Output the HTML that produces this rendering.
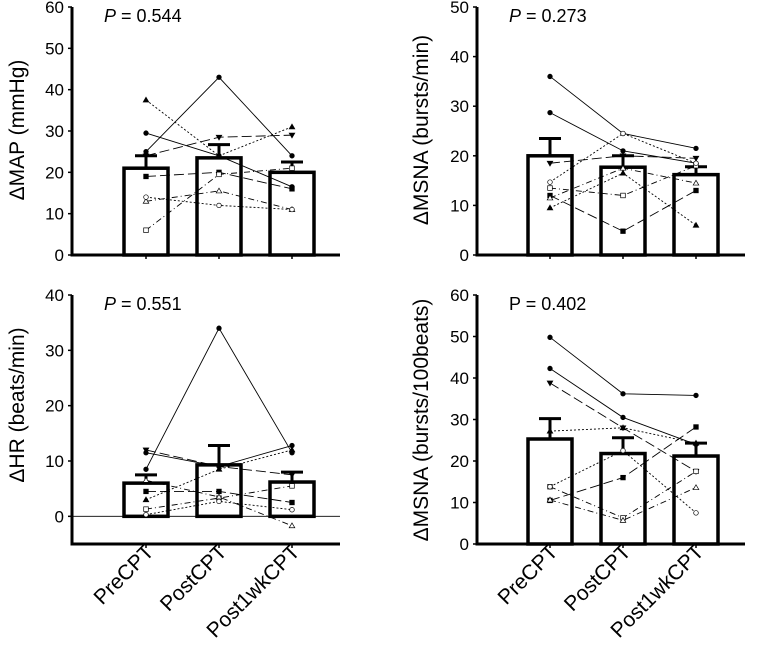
<!DOCTYPE html>
<html><head><meta charset="utf-8"><style>
body{margin:0;background:#fff}
svg{display:block;font-family:"Liberation Sans",Arial,sans-serif}
</style></head><body>
<svg id="fig" width="771" height="648" viewBox="0 0 771 648" xmlns="http://www.w3.org/2000/svg"></svg>
<script>
const categories=["PreCPT","PostCPT","Post1wkCPT"];
// panel A: ΔMAP
const mapMeans=[21,23.5,20];
const mapErr=[24,26.7,22.5];
const mapLines=[[25,43,24],[29.5,24,16.5],[24,28.5,29],[37.5,24,31],[19,20,16],[6,19.5,21],[13,15.5,11],[14,12,11]];
// panel B: ΔMSNA bursts/min
const msnaMeans=[20,17.7,16.2];
const msnaErr=[23.5,20,17.8];
const msnaLines=[[36,24.5,21.5],[28.7,21,18.5],[18.5,20,19.5],[9.5,16.5,6],[12,4.8,13],[13.5,12,18],[11.5,17.5,14.5],[14.7,24.5,18.5]];
// panel C: ΔHR
const hrMeans=[6,9.3,6.2];
const hrErr=[7.5,12.8,8];
const hrLines=[[8.5,34,11.5],[11.5,9,12.8],[12,9,7.5],[3,8.5,12],[4.5,4.5,2.5],[1.3,3.3,5.5],[6.5,3.5,-1.7],[0.3,2.7,1.2]];
// panel D: ΔMSNA bursts/100beats
const m100Means=[25.3,21.8,21.2];
const m100Err=[30.2,25.6,24.3];
const m100Lines=[[49.8,36.2,35.8],[42.3,30.5,24],[38.8,28,17.5],[27.2,28,24.3],[10.5,16,28.2],[13.8,6.3,17.5],[10.6,5.7,13.6],[13.8,22.5,7.5]];
const yTicksA=[0,10,20,30,40,50,60];
const yTicksB=[0,10,20,30,40,50];
const yTicksC=[0,10,20,30,40];
const yTicksD=[0,10,20,30,40,50,60];

const NS="http://www.w3.org/2000/svg";
const svg=document.getElementById('fig');
function mk(tag,attrs,parent,txt){const e=document.createElementNS(NS,tag);for(const k in attrs)e.setAttribute(k,attrs[k]);if(txt!==undefined)e.textContent=txt;(parent||svg).appendChild(e);return e;}
const dashes=["","","10,4","2,2","10,4","6,3,1,3","6,3,1,3","2,2"];
const markers=["circle","circle","tridown","triup","square","osquare","otri","ocircle"];
function marker(g,t,x,y){
  let e;
  if(t=="circle"||t=="ocircle"){e=mk('circle',{cx:x,cy:y,r:2.3,fill:t=="circle"?"#000":"#fff",stroke:"#000","stroke-width":0.7},g);}
  else if(t=="square"||t=="osquare"){e=mk('rect',{x:x-2.3,y:y-2.3,width:4.6,height:4.6,fill:t=="square"?"#000":"#fff",stroke:"#000","stroke-width":0.7},g);}
  else if(t=="triup"||t=="otri"){e=mk('polygon',{points:`${x},${y-2.8} ${x-2.8},${y+2} ${x+2.8},${y+2}`,fill:t=="triup"?"#000":"#fff",stroke:"#000","stroke-width":0.7},g);}
  else {e=mk('polygon',{points:`${x},${y+2.8} ${x-2.8},${y-2} ${x+2.8},${y-2}`,fill:"#000",stroke:"#000","stroke-width":0.7},g);}
  
  
}
function panel(o){
  const g=mk('g',{},svg);
  
  
  const ys=v=>o.y0+(v-o.ymin)/(o.ymax-o.ymin)*(o.yTop-o.y0);
  const xs=i=>o.cx[i];
  if(o.ymin<0){const z=mk('line',{x1:o.ax,x2:o.ax+268,y1:ys(0),y2:ys(0),stroke:"#000","stroke-width":0.8},g);}
  o.means.forEach((m,i)=>{
    const top=ys(m),base=ys(0);
    const eb=mk('path',{d:`M${xs(i)},${top} V${ys(o.err[i])} M${xs(i)-11},${ys(o.err[i])} H${xs(i)+11}`,stroke:"#000","stroke-width":3,fill:"none"},g);
    
    
    const r=mk('rect',{x:xs(i)-22,y:top,width:44,height:base-top,fill:"#fff","fill-opacity":0,stroke:"#000","stroke-width":3.5},g);
    
    
  });
  o.lines.forEach((L,k)=>{
    const p=mk('polyline',{points:L.map((v,i)=>xs(i)+","+ys(v)).join(" "),fill:"none",stroke:"#000","stroke-width":0.9,"stroke-dasharray":dashes[k]},g);
    
    
    L.forEach((v,i)=>marker(g,markers[k],xs(i),ys(v)));
  });
  const ya=mk('line',{x1:o.ax,x2:o.ax,y1:o.yTop,y2:o.axisY+1.5,stroke:"#000","stroke-width":3},g);
  
  const xa=mk('line',{x1:o.ax,x2:o.ax+268,y1:o.axisY,y2:o.axisY,stroke:"#000","stroke-width":3},g);
  
  o.ticks.forEach(t=>{
    const tl=mk('text',{x:o.ax-8,y:ys(t)+6,"text-anchor":"end","font-size":17},g,String(t));
    
    mk('line',{x1:o.ax-4,x2:o.ax,y1:ys(t),y2:ys(t),stroke:"#000","stroke-width":1.5},g);
  });
  o.cx.forEach(x=>mk('line',{x1:x,x2:x,y1:o.axisY,y2:o.axisY+4,stroke:"#000","stroke-width":1.5},g));
  const yt=mk('text',{x:0,y:0,transform:`translate(${o.titleX},${o.titleY}) rotate(-90)`,"text-anchor":"middle","font-size":21},g,o.title);
  
  const pt=mk('text',{x:o.ax+32,y:o.yTop+15,"font-size":18},g);
  
  mk('tspan',{"font-style":o.italic?"italic":"normal"},pt,"P");
  mk('tspan',{},pt," = "+o.p);
  if(o.xlabels){categories.forEach((c,i)=>{
    const xl=mk('text',{x:0,y:0,transform:`translate(${xs(i)+9},${o.axisY+9}) rotate(-45)`,"text-anchor":"end","font-size":21},g,c);
    
  });}
}
panel({name:'panel-map',ax:72,cx:[146,219,292],ymin:0,ymax:60,y0:255,yTop:7,axisY:255,ticks:yTicksA,means:mapMeans,err:mapErr,lines:mapLines,title:"ΔMAP (mmHg)",titleX:24,titleY:130,p:"0.544",italic:true});
panel({name:'panel-msna-min',ax:477,cx:[550,623,696],ymin:0,ymax:50,y0:255,yTop:7,axisY:255,ticks:yTicksB,means:msnaMeans,err:msnaErr,lines:msnaLines,title:"ΔMSNA (bursts/min)",titleX:428,titleY:130,p:"0.273",italic:true});
panel({name:'panel-hr',ax:72,cx:[146,219,292],ymin:-5,ymax:40,y0:544,yTop:295,axisY:544,ticks:yTicksC,means:hrMeans,err:hrErr,lines:hrLines,title:"ΔHR (beats/min)",titleX:24,titleY:405,p:"0.551",italic:true,xlabels:true});
panel({name:'panel-msna-100',ax:477,cx:[550,623,696],ymin:0,ymax:60,y0:544,yTop:295,axisY:544,ticks:yTicksD,means:m100Means,err:m100Err,lines:m100Lines,title:"ΔMSNA (bursts/100beats)",titleX:428,titleY:420,p:"0.402",italic:false,xlabels:true});
</script>
</body></html>
